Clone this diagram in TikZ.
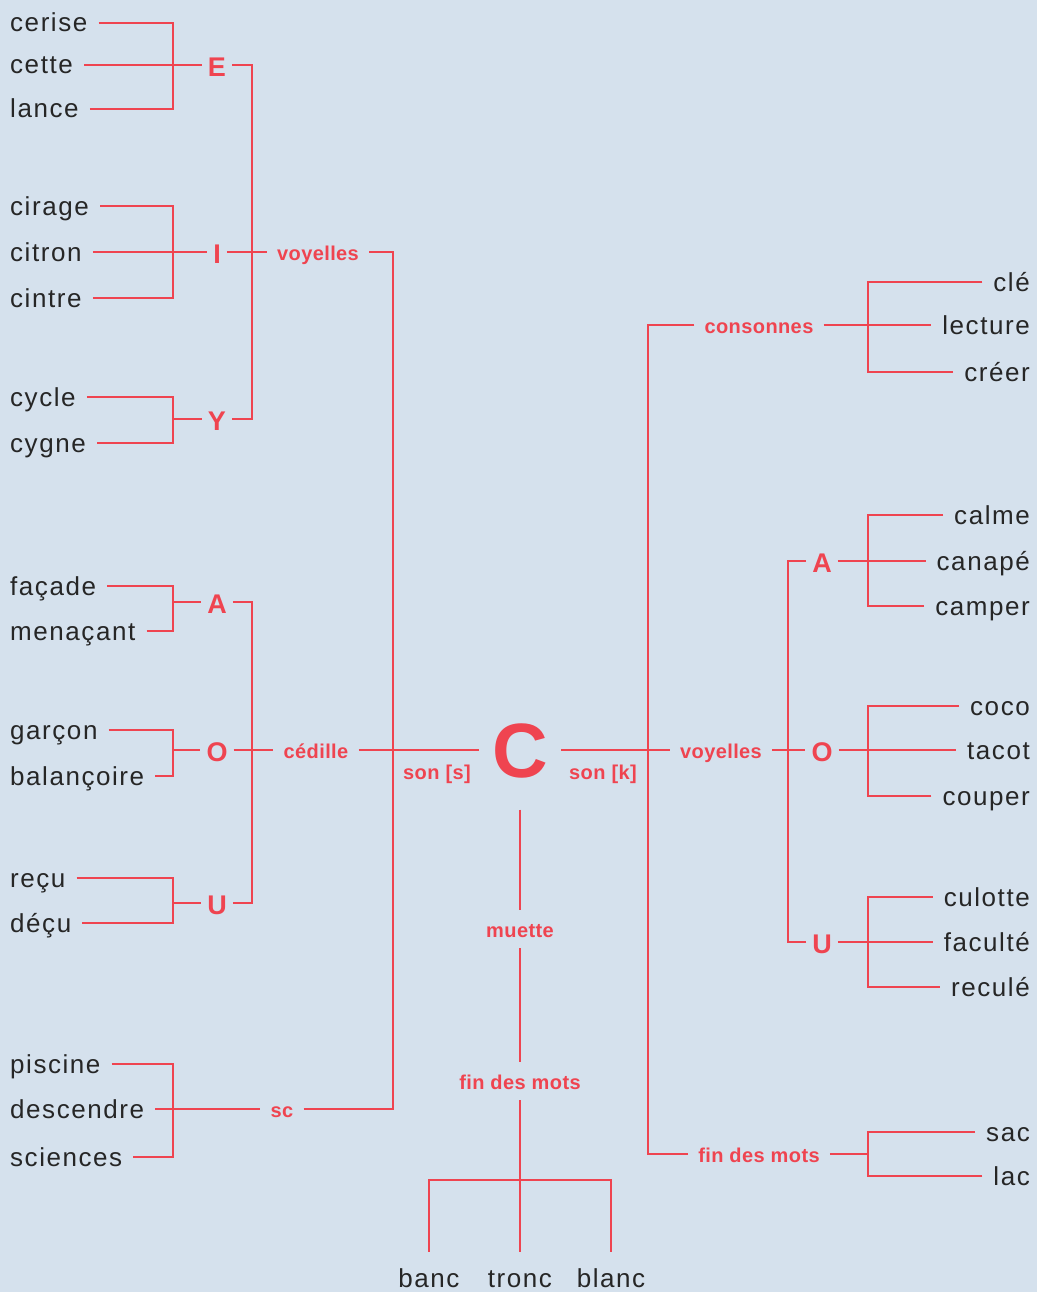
\documentclass[tikz,border=0pt]{standalone}
\usepackage{fontspec}
\newfontfamily\wordfont{Liberation Sans}[LetterSpace=6]
\newfontfamily\tagfont{Liberation Sans}[LetterSpace=2]
\definecolor{fond}{HTML}{D5E1ED}
\definecolor{rouge}{HTML}{EF4450}
\definecolor{ink}{HTML}{262626}
\tikzset{
  word/.style={font=\wordfont\fontsize{26}{30}\selectfont, text=ink, inner xsep=11pt, inner ysep=0pt, text height=21pt, text depth=3pt},
  tag/.style={font=\tagfont\bfseries\fontsize{20}{24}\selectfont, text=rouge, inner xsep=10pt, inner ysep=11pt, text height=16pt, text depth=0pt},
  letter/.style={font=\tagfont\bfseries\fontsize{27}{30}\selectfont, text=rouge, inner xsep=6pt, inner ysep=0pt, text height=23pt, text depth=0pt},
  link/.style={draw=rouge, line width=1.2pt},
}
\begin{document}
\begin{tikzpicture}[x=1pt,y=-1pt]
\useasboundingbox (0,0) rectangle (1036,1292);
\fill[fond] (-5,-5) rectangle (1041,1297);
% left words
\node[word,anchor=west] (cerise) at (-1,23) {cerise};
\node[word,anchor=west] (cette) at (-1,65) {cette};
\node[word,anchor=west] (lance) at (-1,109) {lance};
\node[word,anchor=west] (cirage) at (-1,206) {cirage};
\node[word,anchor=west] (citron) at (-1,252) {citron};
\node[word,anchor=west] (cintre) at (-1,298) {cintre};
\node[word,anchor=west] (cycle) at (-1,397) {cycle};
\node[word,anchor=west] (cygne) at (-1,443) {cygne};
\node[word,anchor=west] (facade) at (-1,586) {façade};
\node[word,anchor=west] (menacant) at (-1,631) {menaçant};
\node[word,anchor=west] (garcon) at (-1,730) {garçon};
\node[word,anchor=west] (balancoire) at (-1,776) {balançoire};
\node[word,anchor=west] (recu) at (-1,878) {reçu};
\node[word,anchor=west] (decu) at (-1,923) {déçu};
\node[word,anchor=west] (piscine) at (-1,1064) {piscine};
\node[word,anchor=west] (descendre) at (-1,1109) {descendre};
\node[word,anchor=west] (sciences) at (-1,1157) {sciences};
% left letters and tags
\node[letter] (lE) at (217,65) {E};
\node[letter] (lI) at (217,252) {I};
\node[letter] (lY) at (217,419) {Y};
\node[letter] (lA) at (217,602) {A};
\node[letter] (lO) at (217,750) {O};
\node[letter] (lU) at (217,903) {U};
\node[tag] (voyL) at (318,252) {voyelles};
\node[tag] (cedille) at (316,750) {cédille};
\node[tag] (sc) at (282,1109) {sc};
\coordinate (jE) at (173,65);
\coordinate (jI) at (173,252);
\coordinate (jY) at (173,419);
\coordinate (jA) at (173,602);
\coordinate (jO) at (173,750);
\coordinate (jU) at (173,903);
\coordinate (jSC) at (173,1109);
\coordinate (jV) at (252,252);
\coordinate (jCed) at (252,750);
\coordinate (jS) at (393,750);
% centre
\node[font=\tagfont\bfseries\fontsize{77}{80}\selectfont, text=rouge, inner xsep=13pt, inner ysep=32pt, text height=55pt, text depth=0pt] (C) at (520,750) {C};
\node[tag,inner ysep=0pt] (sonS) at (437,771) {son [s]};
\node[tag,inner ysep=0pt] (sonK) at (603,771) {son [k]};
\node[tag] (muette) at (520,929) {muette};
\node[tag] (finB) at (520,1081) {fin des mots};
\node[word,inner ysep=14pt] (banc) at (429,1278) {banc};
\node[word,inner ysep=14pt] (tronc) at (520,1278) {tronc};
\node[word,inner ysep=14pt] (blanc) at (611,1278) {blanc};
\coordinate (jB) at (520,1180);
% right tags and letters
\node[tag] (voyR) at (721,750) {voyelles};
\node[tag] (consonnes) at (759,325) {consonnes};
\node[tag] (finR) at (759,1154) {fin des mots};
\node[letter] (rA) at (822,561) {A};
\node[letter] (rO) at (822,750) {O};
\node[letter] (rU) at (822,942) {U};
\coordinate (jK) at (648,750);
\coordinate (jVR) at (788,750);
\coordinate (jCons) at (868,325);
\coordinate (jAR) at (868,561);
\coordinate (jOR) at (868,750);
\coordinate (jUR) at (868,942);
\coordinate (jF) at (868,1154);
% right words
\node[word,anchor=east] (cle) at (1041,282) {clé};
\node[word,anchor=east] (lecture) at (1041,325) {lecture};
\node[word,anchor=east] (creer) at (1041,372) {créer};
\node[word,anchor=east] (calme) at (1041,515) {calme};
\node[word,anchor=east] (canape) at (1041,561) {canapé};
\node[word,anchor=east] (camper) at (1041,606) {camper};
\node[word,anchor=east] (coco) at (1041,706) {coco};
\node[word,anchor=east] (tacot) at (1041,750) {tacot};
\node[word,anchor=east] (couper) at (1041,796) {couper};
\node[word,anchor=east] (culotte) at (1041,897) {culotte};
\node[word,anchor=east] (faculte) at (1041,942) {faculté};
\node[word,anchor=east] (recule) at (1041,987) {reculé};
\node[word,anchor=east] (sac) at (1041,1132) {sac};
\node[word,anchor=east] (lac) at (1041,1176) {lac};
% left links
\draw[link] (cerise.east) -| (jE) ; \draw[link] (lance.east) -| (jE) ; \draw[link] (cette.east) -- (lE.west) ;
\draw[link] (cirage.east) -| (jI) ; \draw[link] (cintre.east) -| (jI) ; \draw[link] (citron.east) -- (lI.west) ;
\draw[link] (cycle.east) -| (jY) ; \draw[link] (cygne.east) -| (jY) ; \draw[link] (jY) -- (lY.west) ;
\draw[link] (facade.east) -| (jA) ; \draw[link] (menacant.east) -| (jA) ; \draw[link] (jA) -- (lA.west) ;
\draw[link] (garcon.east) -| (jO) ; \draw[link] (balancoire.east) -| (jO) ; \draw[link] (jO) -- (lO.west) ;
\draw[link] (recu.east) -| (jU) ; \draw[link] (decu.east) -| (jU) ; \draw[link] (jU) -- (lU.west) ;
\draw[link] (piscine.east) -| (jSC) ; \draw[link] (sciences.east) -| (jSC) ; \draw[link] (descendre.east) -- (sc.west) ;
\draw[link] (lE.east) -| (jV) ; \draw[link] (lY.east) -| (jV) ; \draw[link] (lI.east) -- (voyL.west) ;
\draw[link] (lA.east) -| (jCed) ; \draw[link] (lU.east) -| (jCed) ; \draw[link] (lO.east) -- (cedille.west) ;
\draw[link] (voyL.east) -| (jS) ; \draw[link] (sc.east) -| (jS) ; \draw[link] (cedille.east) -- (C.west) ;
% centre links
\draw[link] (C.south) -- (muette.north) ;
\draw[link] (muette.south) -- (finB.north) ;
\draw[link] (finB.south) -- (tronc.north) ;
\draw[link] (banc.north) |- (jB) ; \draw[link] (blanc.north) |- (jB) ;
% right links
\draw[link] (C.east) -- (voyR.west) ;
\draw[link] (consonnes.west) -| (jK) ; \draw[link] (finR.west) -| (jK) ;
\draw[link] (rA.west) -| (jVR) ; \draw[link] (rU.west) -| (jVR) ; \draw[link] (voyR.east) -- (rO.west) ;
\draw[link] (cle.west) -| (jCons) ; \draw[link] (creer.west) -| (jCons) ; \draw[link] (consonnes.east) -- (lecture.west) ;
\draw[link] (calme.west) -| (jAR) ; \draw[link] (camper.west) -| (jAR) ; \draw[link] (rA.east) -- (canape.west) ;
\draw[link] (coco.west) -| (jOR) ; \draw[link] (couper.west) -| (jOR) ; \draw[link] (rO.east) -- (tacot.west) ;
\draw[link] (culotte.west) -| (jUR) ; \draw[link] (recule.west) -| (jUR) ; \draw[link] (rU.east) -- (faculte.west) ;
\draw[link] (sac.west) -| (jF) ; \draw[link] (lac.west) -| (jF) ; \draw[link] (finR.east) -- (jF) ;
\end{tikzpicture}
\end{document}
